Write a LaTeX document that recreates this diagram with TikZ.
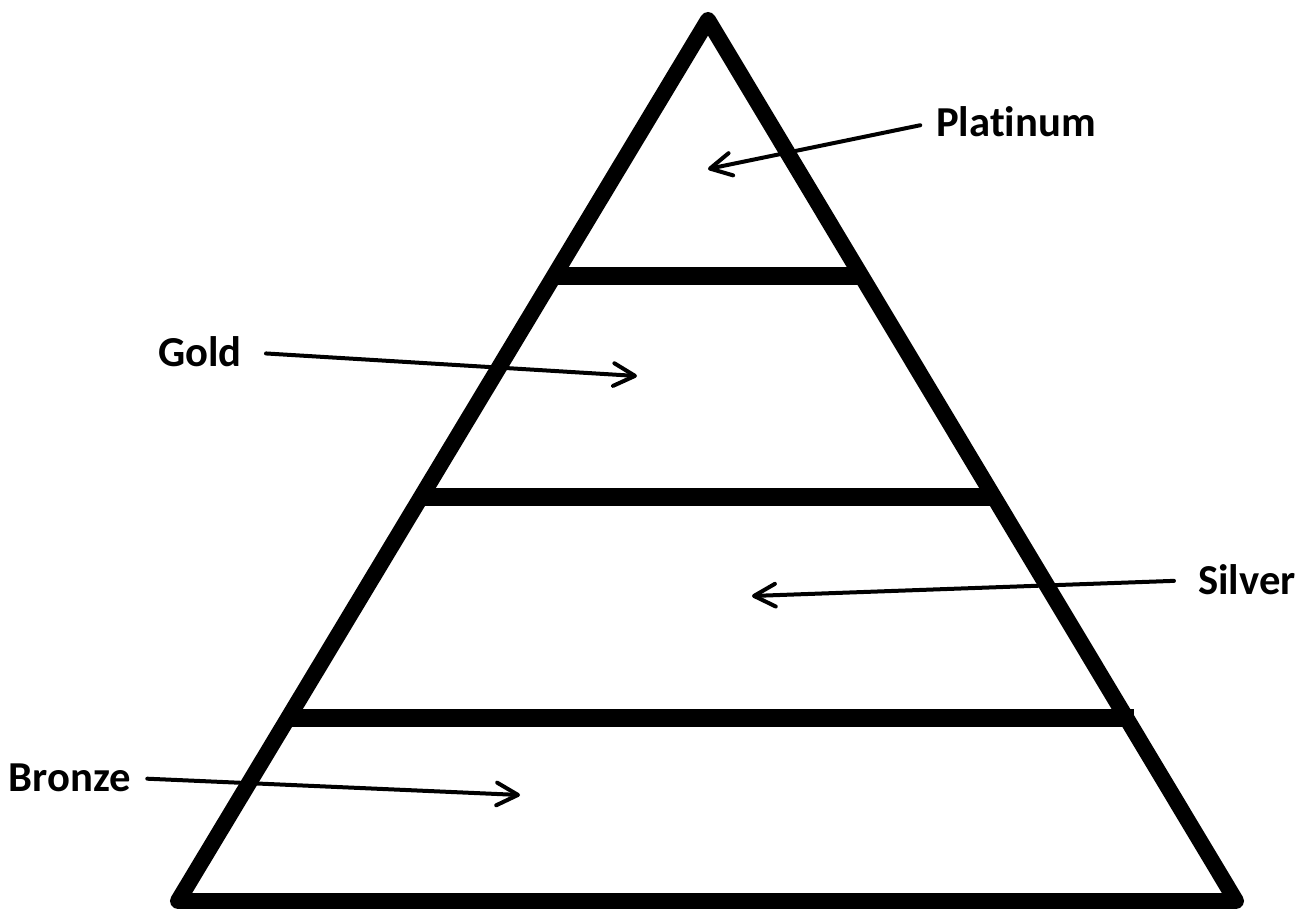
\documentclass[tikz,border=0pt]{standalone}
\usepackage{fontspec}
\setmainfont{Carlito}[Ligatures=NoCommon]
\usetikzlibrary{arrows.meta}

\begin{document}
\begin{tikzpicture}[x=0.75pt,y=-0.75pt,
  edge/.style={line width=12pt,line join=round,line cap=round},
  tierbar/.style={line width=13pt},
  pointer/.style={line width=3pt,line cap=round,-{Straight Barb[length=16pt,width=17pt,round]}},
  lbl/.style={font=\bfseries\fontsize{32}{38}\selectfont,inner sep=0pt}]
\useasboundingbox (0,0) rectangle (1303,909);
\coordinate (apex) at (708,20);
\coordinate (bl) at (178,901);
\coordinate (br) at (1236,901);
\draw[edge] (apex)--(bl)--(br)--cycle;
\foreach \y/\xl/\xr in {276/553/862,497/421/995,718/288/1134}{\draw[tierbar] (\xl,\y)--(\xr,\y);}
% labels and pointer tips
\node[lbl] (plat) at (1016,122) {Platinum};
\node[lbl] (gold) at (200,352) {Gold};
\node[lbl] (silv) at (1247,580) {Silver};
\node[lbl] (bron) at (70,778) {Bronze};
\coordinate (platTip) at (708,169);
\coordinate (goldTip) at (637,376);
\coordinate (silvTip) at (752,596);
\coordinate (bronTip) at (520,795);
\draw[pointer,shorten <=12pt] (plat.west)--(platTip);
\draw[pointer,shorten <=18pt] (gold.east)--(goldTip);
\draw[pointer,shorten <=18pt] (silv.west)--(silvTip);
\draw[pointer,shorten <=12pt] (bron.east)--(bronTip);
\end{tikzpicture}
\end{document}
